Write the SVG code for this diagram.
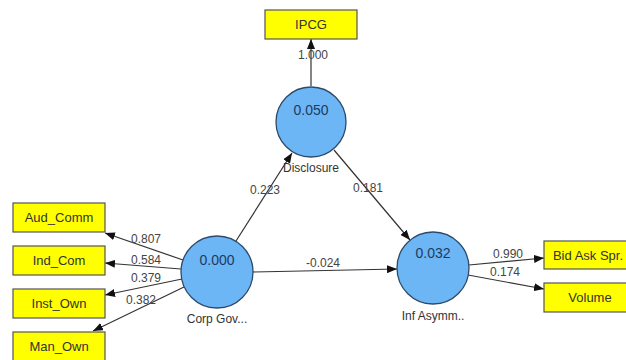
<svg xmlns="http://www.w3.org/2000/svg" width="626" height="360" viewBox="0 0 626 360">
<defs>
<marker id="ah" markerWidth="10" markerHeight="8" refX="10" refY="4" orient="auto" markerUnits="userSpaceOnUse">
<path d="M0,0 L10,4 L0,8 Z" fill="#111"/>
</marker>
<style>
.box{fill:#ffff00;stroke:#555;stroke-width:1.2}
.btxt{font-family:"Liberation Sans",Arial,sans-serif;font-size:13px;fill:#333;text-anchor:middle}
.circ{fill:#6cb6f5;stroke:#2e4a6a;stroke-width:1.3}
.val{font-family:"Liberation Sans",Arial,sans-serif;font-size:14px;fill:#1f3a5c;text-anchor:middle}
.lbl{font-family:"Liberation Sans",Arial,sans-serif;font-size:12px;fill:#333;text-anchor:middle}
.con{stroke:#333;stroke-width:1.2;fill:none;marker-end:url(#ah)}
.w{font-family:"Liberation Sans",Arial,sans-serif;font-size:12px;fill:#444;text-anchor:middle}
</style>
</defs>
<rect width="626" height="360" fill="#ffffff"/>
<g id="connectors">
<line class="con" x1="311" y1="86" x2="311" y2="39"/>
<line class="con" x1="236" y1="241" x2="292" y2="153"/>
<line class="con" x1="334" y1="150" x2="410" y2="240"/>
<line class="con" x1="253" y1="272" x2="397" y2="269"/>
<line class="con" x1="183" y1="260" x2="105" y2="233"/>
<line class="con" x1="181" y1="269" x2="105" y2="263"/>
<line class="con" x1="182" y1="279" x2="105" y2="295"/>
<line class="con" x1="184" y1="287" x2="93" y2="331"/>
<line class="con" x1="469" y1="265" x2="544" y2="258"/>
<line class="con" x1="468" y1="275" x2="544" y2="289"/>
<text class="w" x="313" y="59">1.000</text>
<text class="w" x="265" y="194">0.223</text>
<text class="w" x="368" y="192">0.181</text>
<text class="w" x="323" y="267">-0.024</text>
<text class="w" x="146" y="243">0.807</text>
<text class="w" x="146" y="264">0.584</text>
<text class="w" x="146" y="282">0.379</text>
<text class="w" x="141" y="304">0.382</text>
<text class="w" x="508" y="258">0.990</text>
<text class="w" x="505" y="276">0.174</text>
</g>
<g id="IPCG"><rect class="box" x="265" y="10" width="92" height="29"/><text class="btxt" x="311" y="29">IPCG</text></g>
<g id="Aud_Comm"><rect class="box" x="13" y="203" width="92" height="29"/><text class="btxt" x="59" y="222">Aud_Comm</text></g>
<g id="Ind_Com"><rect class="box" x="13" y="246" width="92" height="29"/><text class="btxt" x="59" y="265">Ind_Com</text></g>
<g id="Inst_Own"><rect class="box" x="13" y="289" width="92" height="29"/><text class="btxt" x="59" y="308">Inst_Own</text></g>
<g id="Man_Own"><rect class="box" x="13" y="332" width="92" height="29"/><text class="btxt" x="59" y="351">Man_Own</text></g>
<g id="BidAsk"><rect class="box" x="544" y="241" width="92" height="28"/><text class="btxt" x="588" y="260">Bid Ask Spr.</text></g>
<g id="Volume"><rect class="box" x="544" y="283" width="92" height="29"/><text class="btxt" x="590" y="302">Volume</text></g>
<g id="Disclosure"><circle class="circ" cx="311" cy="122" r="35"/><text class="val" x="311" y="115">0.050</text><text class="lbl" x="311" y="172">Disclosure</text></g>
<g id="CorpGov"><circle class="circ" cx="217" cy="272" r="36"/><text class="val" x="217" y="265">0.000</text><text class="lbl" x="217" y="323">Corp Gov...</text></g>
<g id="InfAsymm"><circle class="circ" cx="433" cy="268" r="36"/><text class="val" x="433" y="258">0.032</text><text class="lbl" x="433" y="320">Inf Asymm..</text></g>
</svg>
